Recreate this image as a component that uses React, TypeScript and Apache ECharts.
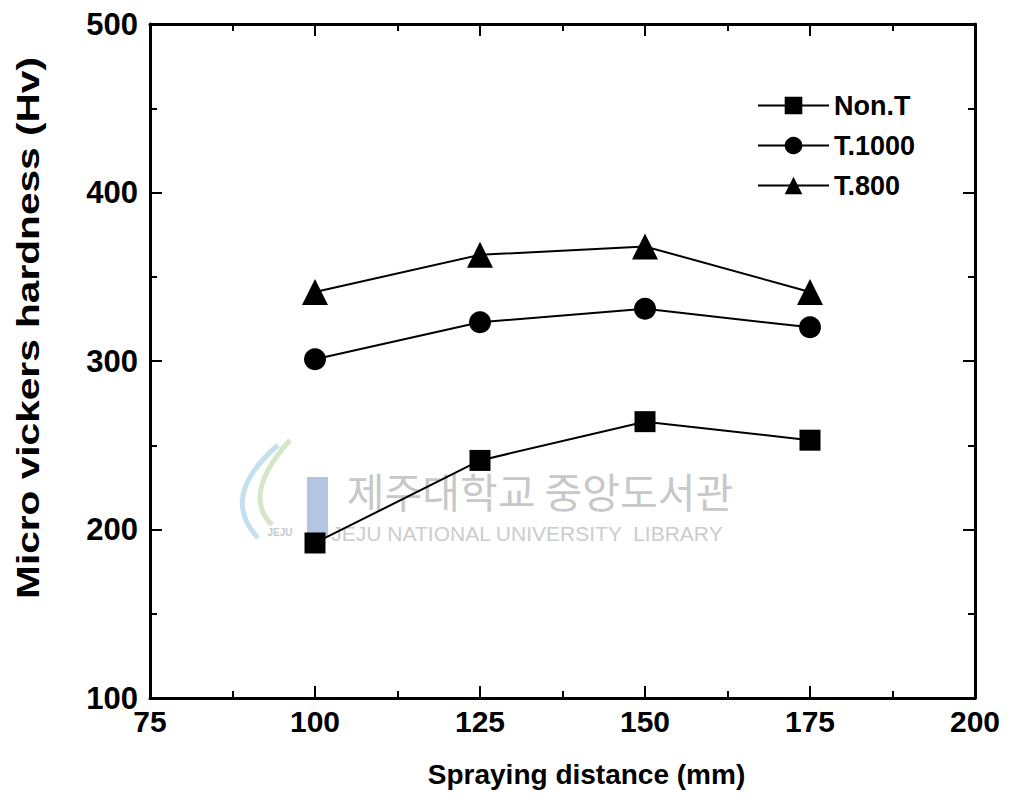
import React, { useEffect, useRef } from "react";
import * as echarts from "echarts";

const distances = [100, 125, 150, 175];
const nonT = [192, 241, 264, 253];
const t1000 = [301, 323, 331, 320];
const t800 = [341, 363, 368, 341];
const seriesNames = ["Non.T", "T.1000", "T.800"];
const xTitle = "Spraying distance (mm)";
const yTitle = "Micro vickers hardness (Hv)";

const FONT = "Liberation Sans, Arial, sans-serif";

export default function App() {
  const ref = useRef<HTMLDivElement>(null);
  useEffect(() => {
    const chart = echarts.init(ref.current!, null, { renderer: "svg" });
    const pairs = (ys: number[]) => distances.map((x, i) => [x, ys[i]]);
    const axisLine = { show: true, lineStyle: { color: "#000", width: 3 } };
    const common = {
      axisLine,
      axisTick: { show: true, inside: true, length: 12, lineStyle: { color: "#000", width: 2 } },
      minorTick: { show: true, splitNumber: 2, length: 7, lineStyle: { color: "#000", width: 2 } },
      splitLine: { show: false },
    };
    const lineSeries = (name: string, data: number[], symbol: string, size: number) => ({
      name,
      type: "line",
      data: pairs(data),
      symbol,
      symbolSize: size,
      lineStyle: { color: "#000", width: 2 },
      itemStyle: { color: "#000" },
      z: 5,
    });
    chart.setOption({
      animation: false,
      backgroundColor: "#fff",
      grid: { left: 150, right: 37, top: 24, bottom: 106 },
      xAxis: [
        {
          type: "value",
          min: 75,
          max: 200,
          interval: 25,
          ...common,
          axisLabel: { color: "#000", fontSize: 30, fontWeight: "bold", fontFamily: FONT, margin: 8 },
          name: xTitle,
          nameLocation: "middle",
          nameGap: 62,
          nameTextStyle: {
            color: "#000",
            fontSize: 28,
            fontWeight: "bold",
            fontFamily: FONT,
            padding: [0, 0, 0, 48],
          },
        },
        {
          type: "value",
          position: "top",
          min: 75,
          max: 200,
          interval: 25,
          ...common,
          axisLabel: { show: false },
        },
      ],
      yAxis: [
        {
          type: "value",
          min: 100,
          max: 500,
          interval: 100,
          ...common,
          axisLabel: { color: "#000", fontSize: 31, fontWeight: "bold", fontFamily: FONT, margin: 12 },
        },
        {
          type: "value",
          position: "right",
          min: 100,
          max: 500,
          interval: 100,
          ...common,
          axisLabel: { show: false },
        },
      ],
      legend: {
        orient: "vertical",
        left: 752,
        top: 87,
        itemWidth: 71,
        itemHeight: 22,
        itemGap: 13,
        textStyle: { color: "#000", fontSize: 27, fontWeight: "bold", fontFamily: FONT, padding: [0, 0, 0, 0] },
        data: seriesNames,
      },
      graphic: [
        {
          type: "text",
          x: 28,
          y: 328,
          rotation: Math.PI / 2,
          scaleX: 1.27,
          style: {
            text: yTitle,
            fill: "#000",
            font: "bold 32px 'Liberation Sans'",
            align: "center",
            verticalAlign: "middle",
          },
        },
        {
          type: "bezierCurve",
          shape: { x1: 278, y1: 445, cpx1: 238, cpy1: 480, cpx2: 232, cpy2: 510, x2: 258, y2: 538 },
          style: { stroke: "#c4e0ee", lineWidth: 5, fill: "none" },
          z: 0,
        },
        {
          type: "bezierCurve",
          shape: { x1: 290, y1: 440, cpx1: 256, cpy1: 478, cpx2: 252, cpy2: 505, x2: 272, y2: 525 },
          style: { stroke: "#d3e6c6", lineWidth: 5, fill: "none" },
          z: 0,
        },
        {
          type: "text",
          x: 280,
          y: 532,
          style: {
            text: "JEJU",
            fill: "#c8c8c8",
            font: "bold 10px 'Liberation Sans'",
            align: "center",
            verticalAlign: "middle",
          },
          z: 0,
        },
        {
          type: "rect",
          shape: { x: 307, y: 477, width: 21, height: 60 },
          style: { fill: "#b3c5e0" },
          z: 0,
        },
        {
          type: "text",
          x: 540,
          y: 490,
          style: {
            text: "제주대학교 중앙도서관",
            fill: "#c8c8c8",
            font: "41px 'Noto Sans CJK KR'",
            align: "center",
            verticalAlign: "middle",
          },
          z: 0,
        },
        {
          type: "text",
          x: 527,
          y: 533,
          style: {
            text: "JEJU NATIONAL UNIVERSITY  LIBRARY",
            fill: "#cccccc",
            font: "21px 'Liberation Sans'",
            align: "center",
            verticalAlign: "middle",
          },
          z: 0,
        },
      ],
      series: [
        lineSeries(seriesNames[0], nonT, "rect", 21),
        lineSeries(seriesNames[1], t1000, "circle", 22),
        lineSeries(seriesNames[2], t800, "triangle", 26),
      ],
    });
    return () => chart.dispose();
  }, []);
  return <div ref={ref} style={{ width: 1012, height: 804, margin: -8 }} />;
}
